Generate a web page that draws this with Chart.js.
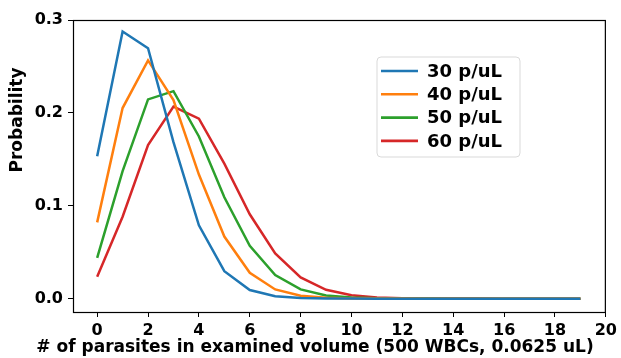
<!DOCTYPE html>
<html><head><meta charset="utf-8">
<script src="https://cdn.jsdelivr.net/npm/chart.js@4/dist/chart.umd.min.js"></script>
<style>html,body{margin:0;padding:0;background:#fff}#wrap{width:621px;height:358px}</style>
</head><body><div id="wrap"><canvas id="c" width="621" height="358"></canvas></div>
<script>
const counts = [0,1,2,3,4,5,6,7,8,9,10,11,12,13,14,15,16,17,18,19];
const seriesLabels = ["30 p/uL","40 p/uL","50 p/uL","60 p/uL"];
const p30 = [0.1534,0.2876,0.2696,0.1685,0.0790,0.0296,0.0093,0.0025,0.0006,0.0001,0.00002,0,0,0,0,0,0,0,0,0];
const p40 = [0.0821,0.2052,0.2565,0.2138,0.1336,0.0668,0.0278,0.0099,0.0031,0.0009,0.0002,0.00005,0.00001,0,0,0,0,0,0,0];
const p50 = [0.0439,0.1373,0.2145,0.2234,0.1746,0.1091,0.0568,0.0254,0.0099,0.0034,0.0011,0.0003,0.00008,0.00002,0,0,0,0,0,0];
const p60 = [0.0235,0.0882,0.1654,0.2067,0.1938,0.1453,0.0908,0.0487,0.0228,0.0095,0.0036,0.0012,0.0004,0.0001,0.00003,0.00001,0,0,0,0];
const xTicks = [0,2,4,6,8,10,12,14,16,18,20];
const yTicks = [0.0,0.1,0.2,0.3];
const xTitle = "# of parasites in examined volume (500 WBCs, 0.0625 uL)";
const yTitle = "Probability";
const colors = ["#1f77b4","#ff7f0e","#2ca02c","#d62728"];

const allSeries = [p30,p40,p50,p60];
const FONT = "'DejaVu Sans', sans-serif";

const framePlugin = {
  id:'frame',
  afterDraw(chart){
    const {ctx, chartArea:a} = chart;
    ctx.save();
    ctx.strokeStyle = '#000'; ctx.lineWidth = 1.2;
    ctx.strokeRect(a.left+0.5, a.top+0.5, a.right-a.left-1, a.bottom-a.top);
    ctx.fillStyle = '#000';
    ctx.font = "bold 17px " + FONT;
    ctx.textAlign = 'center'; ctx.textBaseline = 'middle';
    ctx.fillText(xTitle, 315, 348);
    ctx.translate(18, 120); ctx.rotate(-Math.PI/2);
    ctx.fillText(yTitle, 0, 0);
    ctx.restore();
    // legend
    ctx.save();
    const bx=377, by=57, bw=143, bh=100, r=4;
    ctx.beginPath();
    ctx.moveTo(bx+r,by); ctx.lineTo(bx+bw-r,by); ctx.quadraticCurveTo(bx+bw,by,bx+bw,by+r);
    ctx.lineTo(bx+bw,by+bh-r); ctx.quadraticCurveTo(bx+bw,by+bh,bx+bw-r,by+bh);
    ctx.lineTo(bx+r,by+bh); ctx.quadraticCurveTo(bx,by+bh,bx,by+bh-r);
    ctx.lineTo(bx,by+r); ctx.quadraticCurveTo(bx,by,bx+r,by); ctx.closePath();
    ctx.fillStyle='rgba(255,255,255,0.8)'; ctx.fill();
    ctx.strokeStyle='#d9d9d9'; ctx.lineWidth=1; ctx.stroke();
    ctx.font = "bold 18px " + FONT;
    ctx.textAlign='left'; ctx.textBaseline='middle';
    chart.data.datasets.forEach((ds,i)=>{
      const y = 71 + i*23.3;
      ctx.strokeStyle = ds.borderColor; ctx.lineWidth = 2.6;
      ctx.beginPath(); ctx.moveTo(381,y); ctx.lineTo(418,y); ctx.stroke();
      ctx.fillStyle='#000';
      ctx.fillText(ds.label, 427, y+1);
    });
    ctx.restore();
  }
};

new Chart(document.getElementById('c'), {
  type:'line',
  data:{
    datasets: allSeries.map((s,i)=>({
      label: seriesLabels[i],
      data: counts.map((c,j)=>({x:c, y:s[j]})),
      borderColor: colors[i],
      backgroundColor: colors[i],
      borderWidth: 2.5,
      pointRadius: 0,
      tension: 0,
      fill: false
    }))
  },
  options:{
    responsive:false, animation:false,
    layout:{padding:{top:20,right:13,left:0,bottom:0}},
    plugins:{legend:{display:false}, tooltip:{enabled:false}},
    scales:{
      x:{
        type:'linear', min:-0.95, max:20,
        afterBuildTicks(s){ s.ticks = xTicks.map(v=>({value:v})); },
        afterFit(s){ s.height = 46; },
        grid:{drawOnChartArea:false, drawTicks:true, tickLength:5, color:'#000'},
        border:{display:true,color:'#000'},
        ticks:{color:'#000', font:{family:FONT, size:16, weight:'bold'}, padding:4, maxRotation:0, autoSkip:false,
          callback:v=>String(v)}
      },
      y:{
        type:'linear', min:-0.0144, max:0.3,
        afterBuildTicks(s){ s.ticks = yTicks.map(v=>({value:v})); },
        afterFit(s){ s.width = 73; },
        grid:{drawOnChartArea:false, drawTicks:true, tickLength:5, color:'#000'},
        border:{display:true,color:'#000'},
        ticks:{color:'#000', font:{family:FONT, size:16, weight:'bold'}, padding:5, autoSkip:false,
          callback:v=>v.toFixed(1)}
      }
    }
  },
  plugins:[framePlugin]
});
</script></body></html>
